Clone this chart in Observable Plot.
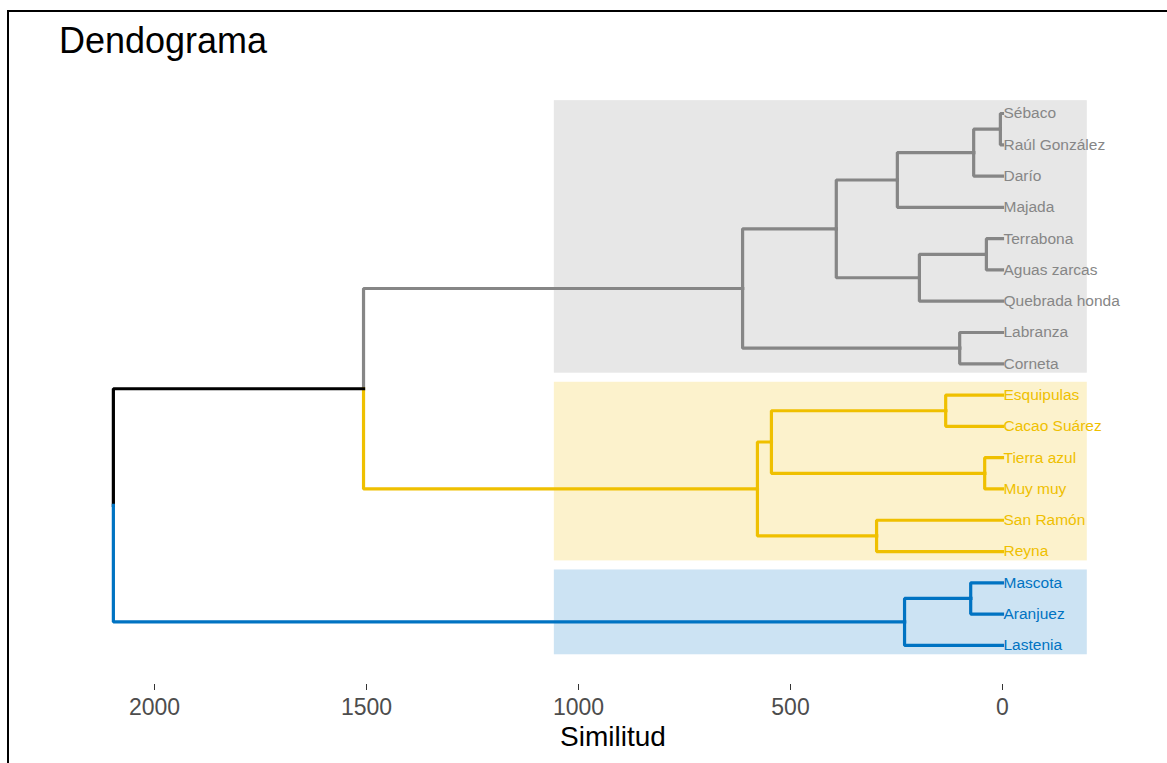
<!DOCTYPE html>
<html>
<head>
<meta charset="utf-8">
<script src="https://cdn.jsdelivr.net/npm/d3@7"></script>
<script src="https://cdn.jsdelivr.net/npm/@observablehq/plot@0.6"></script>
<style>
  html, body { margin: 0; padding: 0; background: #fff; }
  body { width: 1167px; height: 763px; position: relative; overflow: hidden; font-family: "Liberation Sans", Arial, sans-serif; }
  #frame { position: absolute; left: 7px; top: 10px; width: 1200px; height: 800px; border-top: 2px solid #000; border-left: 2px solid #000; }
  #title { position: absolute; left: 59px; top: 23px; font-size: 36px; line-height: 1; color: #000; }
  #xlabel { position: absolute; left: 0; width: 1226px; text-align: center; top: 723px; font-size: 28px; line-height: 1; color: #000; }
  #chart { position: absolute; left: 0; top: 0; }
</style>
</head>
<body>
<div id="frame"></div>
<div id="chart"></div>
<div id="title">Dendograma</div>
<div id="xlabel">Similitud</div>
<script>
// Leaves, top to bottom
const leaves = ["Sébaco","Raúl González","Darío","Majada","Terrabona","Aguas zarcas","Quebrada honda","Labranza","Corneta",
                "Esquipulas","Cacao Suárez","Tierra azul","Muy muy","San Ramón","Reyna",
                "Mascota","Aranjuez","Lastenia"];
// Cluster of each leaf
const leafCluster = ["g","g","g","g","g","g","g","g","g","y","y","y","y","y","y","b","b","b"];
// Merges: [childA, childB, height]; strings = leaf names, numbers = earlier merge (1-based)
const merges = [
  ["Sébaco", "Raúl González", 5],      // 1
  ["Terrabona", "Aguas zarcas", 38],   // 2
  ["Tierra azul", "Muy muy", 42],      // 3
  [1, "Darío", 68],                    // 4
  ["Mascota", "Aranjuez", 75],         // 5
  ["Labranza", "Corneta", 101],        // 6
  ["Esquipulas", "Cacao Suárez", 134], // 7
  [2, "Quebrada honda", 196],          // 8
  [5, "Lastenia", 231],                // 9
  [4, "Majada", 248],                  // 10
  ["San Ramón", "Reyna", 297],         // 11
  [10, 8, 392],                        // 12
  [7, 3, 545],                         // 13
  [13, 11, 578],                       // 14
  [12, 6, 613],                        // 15
  [15, 14, 1507],                      // 16
  [16, 9, 2097]                        // 17
];
// Cluster rectangles (first leaf, last leaf, cluster)
const clusterRects = [["Sébaco","Corneta","g"],["Esquipulas","Reyna","y"],["Mascota","Lastenia","b"]];
const xTicks = [2000, 1500, 1000, 500, 0];

const colors = {g: "#868686", y: "#EFC000", b: "#0073C2", k: "#000000"};
const fills = {g: "#E7E7E7", y: "#FCF2CC", b: "#CCE3F3"};

// Build nodes
const leafNodes = leaves.map((name, i) => ({name, y: i, h: 0, c: leafCluster[i]}));
const byName = new Map(leafNodes.map(d => [d.name, d]));
const mergeNodes = [];
const resolve = r => typeof r === "string" ? byName.get(r) : mergeNodes[r - 1];
const edges = [];
for (const [a, b, h] of merges) {
  const A = resolve(a), B = resolve(b);
  const node = {y: (A.y + B.y) / 2, h, c: A.c === B.c ? A.c : "k"};
  mergeNodes.push(node);
  for (const ch of [A, B]) edges.push({x1: h, y1: node.y, x2: ch.h, y2: ch.y, c: ch.c});
}
const rectData = clusterRects.map(([a, b, c]) => ({y1: byName.get(a).y - 0.41, y2: byName.get(b).y + 0.3, c}));

const chart = Plot.plot({
  width: 1167,
  height: 763,
  marginLeft: 69.2,
  marginRight: 1167 - 1129.2,
  marginTop: 81.7,
  marginBottom: 79,
  x: {domain: [2200, -300], range: [69.2, 1129.2]},
  y: {domain: [-1, 18.25], reverse: true, axis: null},
  style: {fontFamily: "Liberation Sans, Arial, sans-serif", background: "transparent", overflow: "visible"},
  marks: [
    Plot.rect(rectData, {x1: 1057, x2: -200, y1: "y1", y2: "y2", fill: d => fills[d.c]}),
    Plot.link(edges, {x1: "x1", y1: "y1", x2: "x2", y2: "y2", curve: "step-before",
      stroke: d => colors[d.c], strokeWidth: 3.2, strokeLinejoin: "miter", strokeLinecap: "square"}),
    Plot.text(leafNodes, {x: 0, y: "y", text: "name", textAnchor: "start", dx: 1, fontSize: 15.5,
      fill: d => colors[d.c]}),
    Plot.axisX({ticks: xTicks, tickFormat: d => String(d), tickSize: 6, tickPadding: 8, fontSize: 23,
      color: "#4D4D4D", stroke: "#333", label: null})
  ]
});
document.getElementById("chart").appendChild(chart);
</script>
</body>
</html>
